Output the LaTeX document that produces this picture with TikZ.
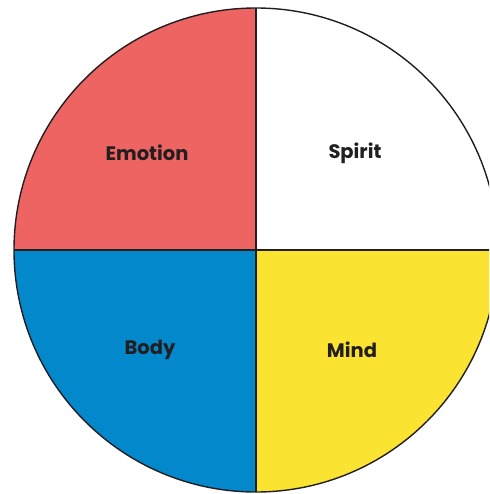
\documentclass[tikz,border=0pt]{standalone}
\usepackage{fontspec}
\setmainfont{Poppins}
\definecolor{cred}{HTML}{EE6462}
\definecolor{cblue}{HTML}{0388CC}
\definecolor{cyellow}{HTML}{FBE431}
\definecolor{ctext}{HTML}{231F20}
\begin{document}
\begin{tikzpicture}[x=1pt,y=-1pt,
  lbl/.style={font=\fontsize{19.5}{23}\selectfont\bfseries, text=ctext},
  edge/.style={draw=ctext, line width=1.4pt}]
\useasboundingbox (0,0) rectangle (489,494);
\clip (0,0) rectangle (489,494);
\coordinate (c) at (256,250);
\fill[cred] (c) -- (14,250) arc[start angle=180,end angle=270,radius=242] -- cycle;
\fill[white] (c) -- (256,8) arc[start angle=270,end angle=360,radius=242] -- cycle;
\fill[cyellow] (c) -- (498,250) arc[start angle=0,end angle=90,radius=242] -- cycle;
\fill[cblue] (c) -- (256,492) arc[start angle=90,end angle=180,radius=242] -- cycle;
\draw[edge] (14,250) -- (498,250);
\draw[edge] (256,8) -- (256,492);
\draw[edge] (c) circle[radius=242];
\node[lbl] (emotion) at (147,153) {Emotion};
\node[lbl] (spirit) at (355,153) {Spirit};
\node[lbl] (body) at (150,350) {Body};
\node[lbl] (mind) at (352,350) {Mind};
\end{tikzpicture}
\end{document}
